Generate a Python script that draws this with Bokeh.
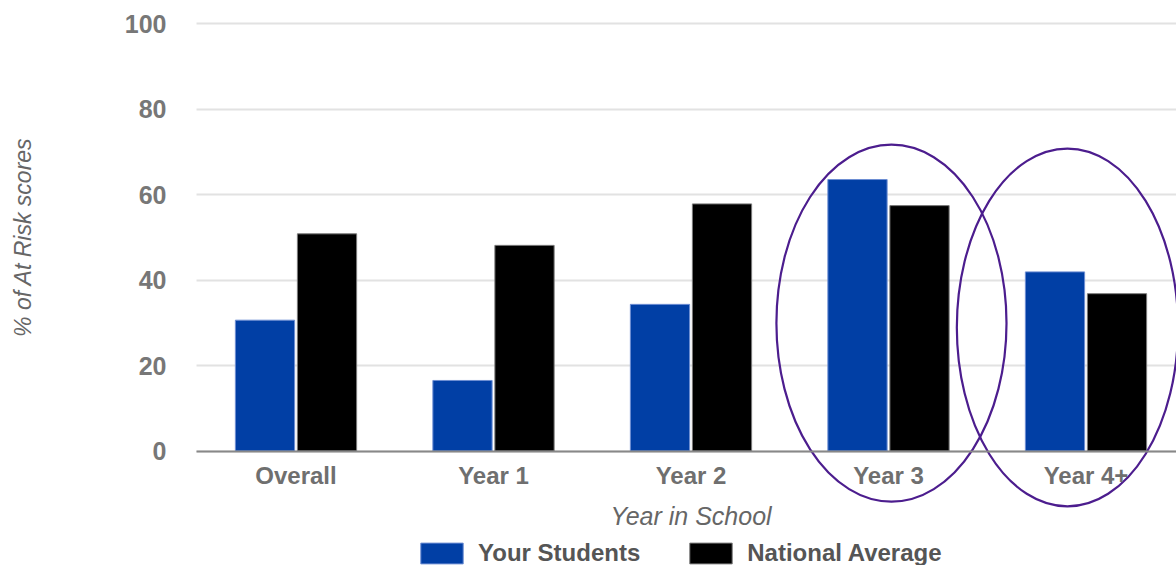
import numpy as np
from bokeh.plotting import figure
from bokeh.models import Range1d, FixedTicker, Legend, LegendItem, Label
from bokeh.transform import dodge
from bokeh.embed import file_html
from bokeh.resources import INLINE

# Share of "At Risk" scores by year in school
categories = ["Overall", "Year 1", "Year 2", "Year 3", "Year 4+"]
your_students = [30.6, 16.5, 34.3, 63.5, 41.9]
national_average = [50.8, 48.1, 57.8, 57.4, 36.8]
y_ticks = [0, 20, 40, 60, 80, 100]

# Highlighted groups: (x centre, y centre, width, height) in data units
highlights = [(3.015, 29.9, 1.165, 83.5), (3.906, 28.9, 1.12, 83.7)]

FONT = "Liberation Sans"
BLUE = "#013fa5"
PURPLE = "#4c1d8e"

# Page layout in pixels; the frame fills the whole canvas so the
# highlight rings can reach below the baseline.
W, H = 1176, 565
AXIS_LEFT_PX = 196      # where the value axis sits
FIRST_CAT_PX = 295.5    # centre of the first category
CAT_PITCH_PX = 197.5    # distance between category centres
ZERO_PX = 450.5         # baseline, measured from the top
UNIT_PX = 4.275         # pixels per percentage point


def px_to_x(px):
    return (px - FIRST_CAT_PX) / CAT_PITCH_PX


def px_to_y(py):
    return (ZERO_PX - py) / UNIT_PX


x_left = px_to_x(AXIS_LEFT_PX)
x_right = px_to_x(W)
x_idx = list(range(len(categories)))
source = dict(x=x_idx, yours=your_students, national=national_average)

p = figure(width=W, height=H, output_backend="svg", toolbar_location=None,
           x_range=Range1d(px_to_x(0), x_right), y_range=Range1d(px_to_y(H), px_to_y(0)),
           min_border=0)
p.outline_line_color = None
p.background_fill_color = "white"
p.border_fill_color = "white"

r_yours = p.vbar(x=dodge("x", -0.157, range=p.x_range), top="yours", width=0.30,
                 source=source, fill_color=BLUE, line_color="#6d8ed3", line_width=1)
r_nat = p.vbar(x=dodge("x", 0.157, range=p.x_range), top="national", width=0.30,
               source=source, fill_color="black", line_color="#7a7a7a", line_width=1)

# value axis, pinned at the left edge of the bar area
p.yaxis.fixed_location = x_left
p.yaxis.bounds = (0, 100)
p.yaxis.ticker = FixedTicker(ticks=y_ticks)
p.yaxis.axis_line_color = None
p.yaxis.major_tick_line_color = None
p.yaxis.minor_tick_line_color = None
p.yaxis.major_label_standoff = 24
p.yaxis.major_label_text_font = FONT
p.yaxis.major_label_text_font_style = "bold"
p.yaxis.major_label_text_font_size = "25px"
p.yaxis.major_label_text_color = "#777777"

# category axis, pinned at zero
p.xaxis.fixed_location = 0
p.xaxis.bounds = (x_left, x_right)
p.xaxis.ticker = FixedTicker(ticks=x_idx)
p.xaxis.major_label_overrides = {i: c for i, c in enumerate(categories)}
p.xaxis.axis_line_color = "#888888"
p.xaxis.axis_line_width = 2
p.xaxis.major_tick_line_color = None
p.xaxis.minor_tick_line_color = None
p.xaxis.major_label_standoff = 5
p.xaxis.major_label_text_font = FONT
p.xaxis.major_label_text_font_style = "bold"
p.xaxis.major_label_text_font_size = "24px"
p.xaxis.major_label_text_color = "#6f6f6f"

# axis titles
p.add_layout(Label(x=px_to_x(22), y=50, text="% of At Risk scores", angle=np.pi / 2,
                   text_align="center", text_baseline="middle", text_font=FONT,
                   text_font_style="italic", text_font_size="23px", text_color="#666666"))
p.add_layout(Label(x=2, y=px_to_y(515), text="Year in School",
                   text_align="center", text_baseline="middle", text_font=FONT,
                   text_font_style="italic", text_font_size="25px", text_color="#666666"))

# grid, starting at the value axis
p.xgrid.grid_line_color = None
p.ygrid.ticker = FixedTicker(ticks=y_ticks)
p.ygrid.cross_bounds = (x_left, x_right)
p.ygrid.grid_line_color = "#e2e2e2"
p.ygrid.grid_line_width = 2

# highlight rings around the last two groups
for cx, cy, w, h in highlights:
    p.ellipse(x=cx, y=cy, width=w, height=h, fill_color=None,
              line_color=PURPLE, line_width=2.2)

legend = Legend(items=[LegendItem(label="Your Students", renderers=[r_yours]),
                       LegendItem(label="National Average", renderers=[r_nat])],
                location=(415, -2), orientation="horizontal",
                glyph_width=53, glyph_height=26, label_height=26, label_standoff=10,
                spacing=44, padding=0, margin=0, border_line_color=None,
                background_fill_alpha=0, label_text_font=FONT,
                label_text_font_style="bold", label_text_font_size="24px",
                label_text_color="#555555")
p.add_layout(legend)

open("out.html", "w").write(file_html(p, INLINE))
